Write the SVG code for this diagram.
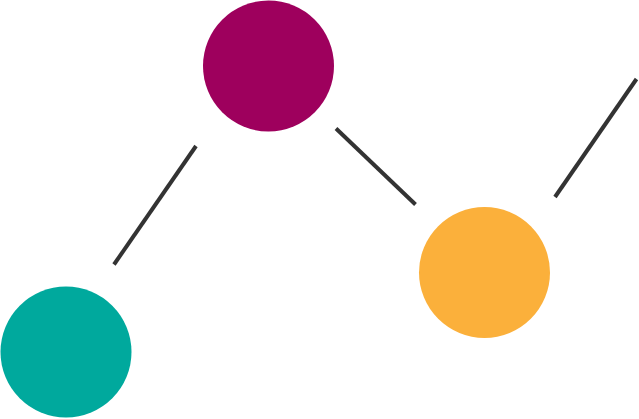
<svg xmlns="http://www.w3.org/2000/svg" width="639" height="419" viewBox="0 0 639 419">
<style>
.c{stroke:none}
.l{stroke:#333333;stroke-width:4;fill:none}
</style>
<rect width="639" height="419" fill="#ffffff"/>
<g id="connectors">
<line class="l" x1="114" y1="264.5" x2="196" y2="146"/>
<line class="l" x1="336" y1="128.5" x2="415.5" y2="204.5"/>
<line class="l" x1="555" y1="197" x2="636.5" y2="79"/>
</g>
<g id="node-teal"><circle class="c" cx="66" cy="352" r="65.5" fill="#00A99D"/></g>
<g id="node-magenta"><circle class="c" cx="268.5" cy="66" r="65.5" fill="#9E005D"/></g>
<g id="node-orange"><circle class="c" cx="484.5" cy="272.5" r="65.5" fill="#FBB03B"/></g>
</svg>
